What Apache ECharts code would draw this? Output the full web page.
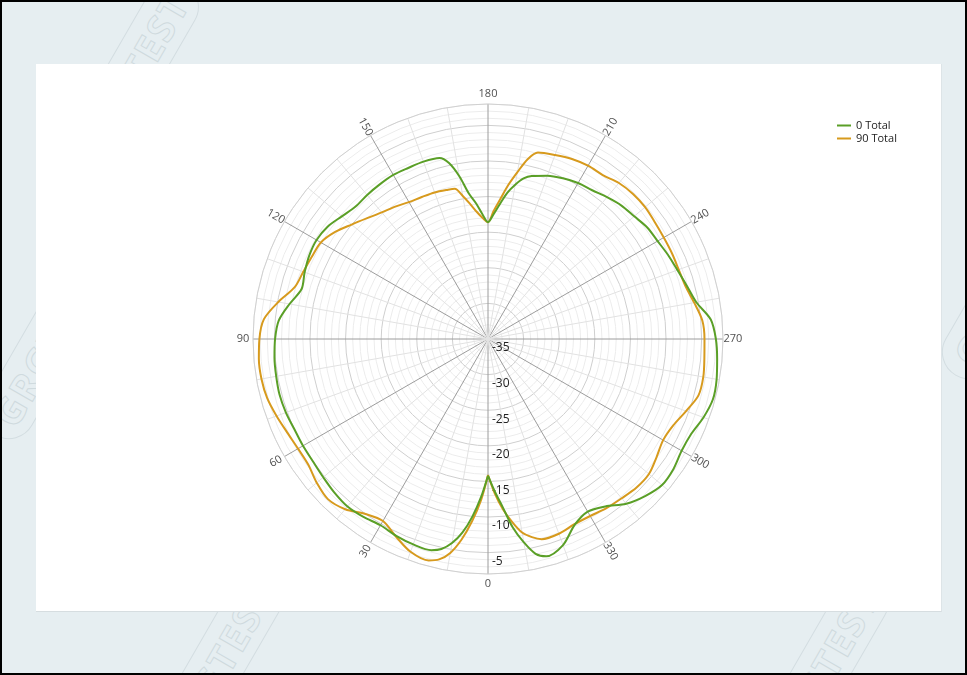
<!DOCTYPE html>
<html>
<head>
<meta charset="utf-8">
<script src="https://cdn.jsdelivr.net/npm/echarts/dist/echarts.min.js"></script>
<style>
html,body{margin:0;padding:0;width:967px;height:675px;overflow:hidden;}
#frame{position:absolute;left:0;top:0;width:967px;height:675px;box-sizing:border-box;border:2px solid #000;background:#e6eef1;overflow:hidden;}
.wm{position:absolute;font-family:'Open Sans',sans-serif;font-size:38px;font-weight:700;letter-spacing:2px;color:transparent;-webkit-text-stroke:1px #cfdade;border:1px solid #d3dde1;border-radius:30px;padding:0 14px;white-space:nowrap;transform-origin:0 0;}
#panel{position:absolute;left:36px;top:64px;width:906px;height:548px;background:#fff;box-sizing:border-box;border-right:1px solid #dde4e7;border-bottom:1px solid #d6dde0;}
#chart{position:absolute;left:0;top:0;width:967px;height:675px;}
</style>
</head>
<body>
<div id="frame">
  <div class="wm" style="left:55px;top:150px;transform:rotate(-60deg);">GRGTEST</div>
  <div class="wm" style="left:-30px;top:420px;transform:rotate(-60deg);">GRGTEST</div>
  <div class="wm" style="left:140px;top:740px;transform:rotate(-60deg);">GRGTEST</div>
  <div class="wm" style="left:745px;top:745px;transform:rotate(-60deg);">GRGTEST</div>
  <div class="wm" style="left:930px;top:360px;transform:rotate(-60deg);">GRGTEST</div>
</div>
<div id="panel"></div>
<div id="chart"></div>
<script>
// Angles (degrees) at which the patterns were read
const angles = [0,2.5,5,7.5,10,12.5,15,
  20,25,30,35,40,45,50,55,60,65,70,75,80,85,90,95,100,105,110,115,120,125,130,135,140,145,150,155,160,165,
  167.5,170,172.5,175,177.5,180,182.5,185,187.5,190,192.5,
  195,200,205,210,215,220,225,230,235,240,245,250,255,260,265,270,275,280,285,290,295,300,305,310,315,320,325,330,335,340,345,
  347.5,350,352.5,355,357.5,360];

// "0 Total" (dB)
const total0 = [-15.8,-12.8,-10.0,-7.6,-5.9,-4.8,-4.3,
  -4.3,-4.5,-4.8,-4.5,-4.3,-4.5,-4.8,-5.0,-5.0,-5.0,-4.8,-4.7,-4.8,-4.9,-5.1,-5.5,-6.7,-7.9,-7.6,-7.3,-7.2,-7.5,-8.2,-8.7,-8.6,-8.5,-8.4,-8.5,-8.5,-8.7,
  -9.7,-11.8,-14.4,-15.9,-17.5,-18.6,-17.5,-16.0,-14.3,-13.0,-11.9,
  -11.3,-10.6,-10.1,-9.7,-9.5,-9.0,-8.5,-8.2,-7.7,-7.5,-7.1,-6.7,-6.1,-5.3,-3.6,-3.0,-2.7,-2.4,-2.3,-2.8,-3.5,-3.6,-3.2,-3.1,-3.8,-4.8,-6.3,-7.0,-6.2,-4.2,-3.4,
  -4.1,-6.0,-8.3,-11.3,-13.6,-15.8];

// "90 Total" (dB)
const total90 = [-15.9,-12.3,-9.3,-6.6,-4.5,-3.3,-2.8,
  -3.2,-4.4,-5.5,-5.0,-3.8,-3.2,-3.6,-4.2,-4.2,-3.9,-3.4,-2.9,-2.7,-2.7,-2.9,-3.4,-5.1,-6.9,-7.4,-7.7,-7.9,-8.8,-10.0,-11.0,-11.8,-12.3,-12.8,-13.0,-13.1,-13.3,
  -13.4,-14.6,-15.9,-17.1,-18.0,-18.6,-17.0,-15.3,-13.2,-11.2,-9.1,
  -7.9,-7.5,-7.1,-6.9,-6.9,-6.4,-6.2,-6.2,-6.4,-6.5,-6.5,-6.5,-6.3,-5.6,-4.8,-4.6,-4.5,-4.3,-4.4,-5.4,-6.3,-6.6,-6.1,-5.5,-5.5,-5.8,-6.0,-6.3,-6.3,-5.9,-5.9,
  -6.5,-7.4,-9.1,-11.0,-13.3,-15.9];

const seriesNames = ['0 Total', '90 Total'];
const angleTickLabels = [0,30,60,90,120,150,180,210,240,270,300,330];
const radiusMin = -35, radiusMax = -2;
const labelRadius = -0.6; // where the angle labels sit (dB units, just outside the rim)

const FONT = 'Open Sans, Noto Sans, sans-serif';
const chart = echarts.init(document.getElementById('chart'), null, {renderer: 'canvas'});

function labelRotate(a) {
  const m = a % 180;
  return m === 0 ? 0 : 90 - m;
}

const option = {
  animation: false,
  backgroundColor: 'transparent',
  legend: {
    data: seriesNames,
    orient: 'vertical',
    left: 832,
    top: 115,
    itemGap: 2,
    itemWidth: 14,
    itemHeight: 2,
    icon: 'rect',
    textStyle: {fontFamily: FONT, fontSize: 11, color: '#222'}
  },
  polar: {center: [488, 339], radius: 235},
  angleAxis: {
    type: 'value', min: 0, max: 360, interval: 10,
    startAngle: 270, clockwise: true,
    axisLine: {show: true, lineStyle: {color: '#d0d0d0', width: 1}},
    axisTick: {show: false},
    axisLabel: {show: false},
    splitLine: {show: true, lineStyle: {color: ['#9c9c9c', '#e2e2e2', '#e2e2e2'], width: 1}}
  },
  radiusAxis: {
    type: 'value', min: radiusMin, max: radiusMax, interval: 1,
    axisLine: {show: false},
    axisTick: {show: false},
    axisLabel: {
      show: true, fontFamily: FONT, fontSize: 12, color: '#222', margin: 4,
      lineHeight: 18,
      formatter: v => (v % 5 === 0 ? '\n' + String(v) : '')
    },
    splitLine: {show: true, lineStyle: {color: ['#cfcfcf', '#ececec', '#ececec', '#ececec', '#ececec'], width: 1}}
  },
  series: [
    {
      name: seriesNames[0], type: 'line', coordinateSystem: 'polar',
      data: angles.map((a, i) => [total0[i], a]),
      smooth: 0.3, showSymbol: false, symbol: 'none',
      lineStyle: {color: '#5a9f27', width: 2},
      itemStyle: {color: '#5a9f27'},
      z: 3
    },
    {
      name: seriesNames[1], type: 'line', coordinateSystem: 'polar',
      data: angles.map((a, i) => [total90[i], a]),
      smooth: 0.3, showSymbol: false, symbol: 'none',
      lineStyle: {color: '#d79a1d', width: 2},
      itemStyle: {color: '#d79a1d'},
      z: 2
    },
    {
      name: 'angleLabels', type: 'scatter', coordinateSystem: 'polar',
      clip: false, silent: true, symbolSize: 1,
      itemStyle: {color: 'rgba(0,0,0,0)'},
      data: angleTickLabels.map(a => ({value: [labelRadius, a], label: {rotate: labelRotate(a)}})),
      label: {
        show: true, position: 'inside', fontFamily: FONT, fontSize: 11, color: '#222',
        formatter: p => String(p.value[1])
      },
      z: 4
    }
  ]
};
chart.setOption(option);
</script>
</body>
</html>
